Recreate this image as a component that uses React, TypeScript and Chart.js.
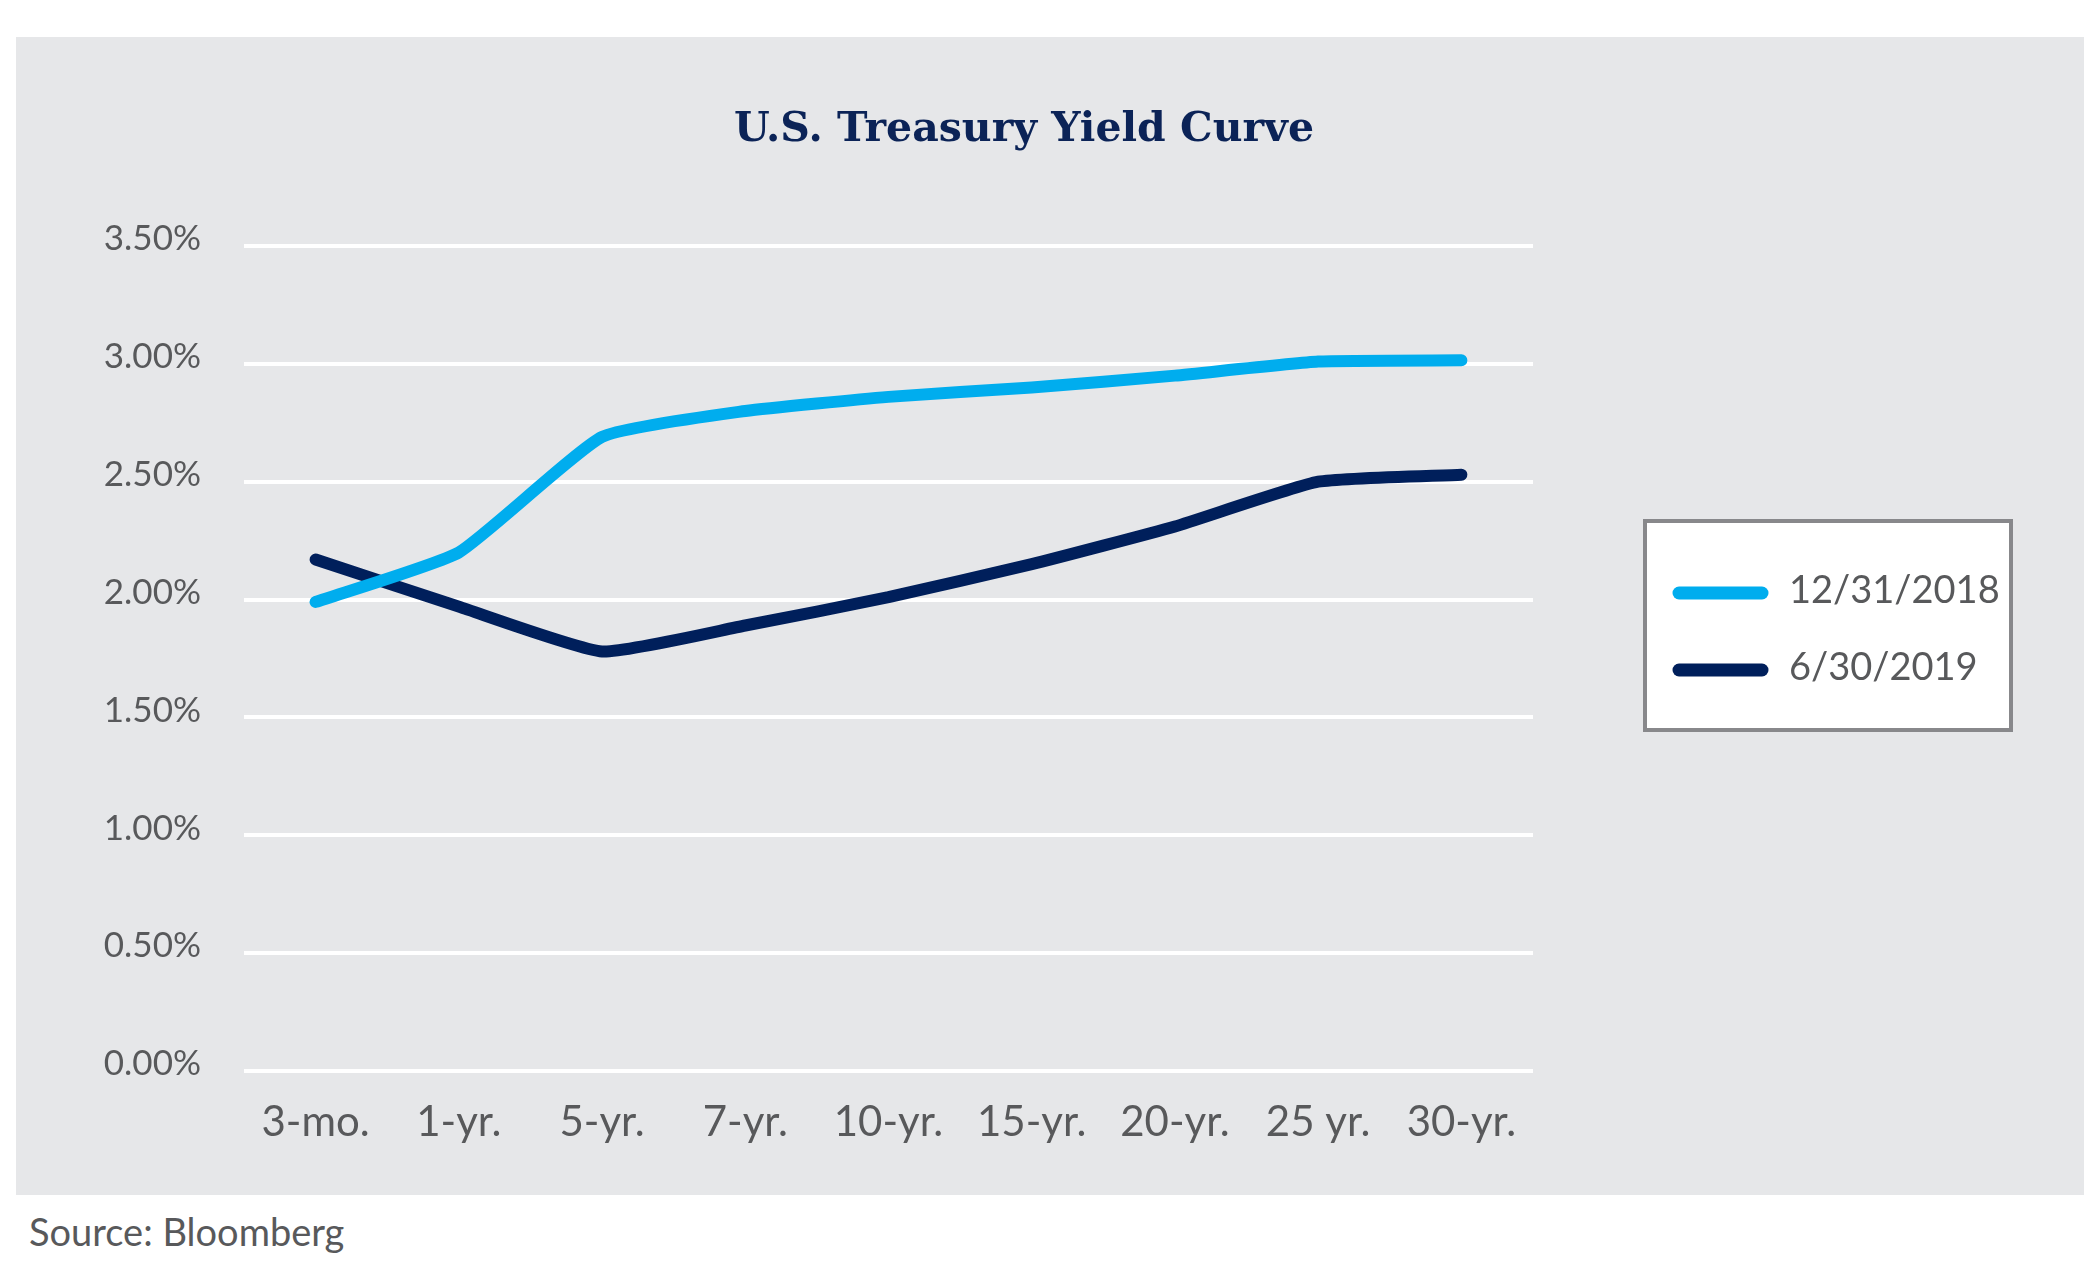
import React, { useEffect, useRef } from "react";
import { Chart, registerables } from "chart.js";

Chart.register(...registerables);

const titleText = "U.S. Treasury Yield Curve";
const sourceText = "Source: Bloomberg";
const categories = ["3-mo.", "1-yr.", "5-yr.", "7-yr.", "10-yr.", "15-yr.", "20-yr.", "25 yr.", "30-yr."];
const seriesLabels = ["12/31/2018", "6/30/2019"];
const dec2018 = [1.99, 2.2, 2.69, 2.8, 2.86, 2.9, 2.95, 3.01, 3.015];
const jun2019 = [2.17, 1.97, 1.78, 1.89, 2.01, 2.15, 2.31, 2.5, 2.53];
const seriesColors = ["#00ADEE", "#001F5B"];
const yTicks = [0, 0.5, 1, 1.5, 2, 2.5, 3, 3.5];

const TEXT_GRAY = "#58595B";
const PANEL_GRAY = "#E6E7E9";

const titlePlugin = {
  id: "customTitle",
  afterDraw(chart: any) {
    const ctx = chart.ctx;
    ctx.save();
    ctx.font = "bold 41px 'DejaVu Serif'";
    ctx.fillStyle = "#0B2357";
    ctx.textAlign = "center";
    ctx.textBaseline = "middle";
    ctx.fillText(titleText, 1008, 93);
    ctx.restore();
  },
};

const legendPlugin = {
  id: "boxLegend",
  afterDraw(chart: any) {
    const ctx = chart.ctx;
    const x0 = 1629;
    const y0 = 484;
    const w = 366;
    const h = 209;
    ctx.save();
    ctx.fillStyle = "#FFFFFF";
    ctx.fillRect(x0, y0, w, h);
    ctx.strokeStyle = "#88888B";
    ctx.lineWidth = 4;
    ctx.strokeRect(x0, y0, w, h);
    chart.data.datasets.forEach((ds: any, i: number) => {
      const cy = 556 + i * 77;
      ctx.strokeStyle = ds.borderColor;
      ctx.lineWidth = 13;
      ctx.lineCap = "round";
      ctx.beginPath();
      ctx.moveTo(1663, cy);
      ctx.lineTo(1746, cy);
      ctx.stroke();
      ctx.fillStyle = TEXT_GRAY;
      ctx.font = "38px Lato";
      ctx.textAlign = "left";
      ctx.textBaseline = "middle";
      ctx.fillText(ds.label, 1773, cy - 2);
    });
    ctx.restore();
  },
};

export default function App() {
  const canvasRef = useRef<HTMLCanvasElement | null>(null);

  useEffect(() => {
    if (!canvasRef.current) return;
    const chart = new Chart(canvasRef.current, {
      type: "line",
      data: {
        labels: categories,
        datasets: [
          {
            label: seriesLabels[0],
            data: dec2018,
            borderColor: seriesColors[0],
            backgroundColor: seriesColors[0],
            borderWidth: 12,
            borderCapStyle: "round",
            borderJoinStyle: "round",
            pointRadius: 0,
            tension: 0.15,
          },
          {
            label: seriesLabels[1],
            data: jun2019,
            borderColor: seriesColors[1],
            backgroundColor: seriesColors[1],
            borderWidth: 12,
            borderCapStyle: "round",
            borderJoinStyle: "round",
            pointRadius: 0,
            tension: 0.15,
          },
        ],
      },
      options: {
        animation: false,
        responsive: false,
        maintainAspectRatio: false,
        devicePixelRatio: 1,
        layout: { padding: { left: 0, right: 551, top: 209, bottom: 0 } },
        plugins: {
          legend: { display: false },
          title: { display: false },
          tooltip: { enabled: false },
        },
        scales: {
          x: {
            type: "category",
            offset: true,
            grid: { display: false, drawTicks: false },
            border: { display: false },
            ticks: {
              color: TEXT_GRAY,
              font: { family: "Lato", size: 42 },
              padding: 26,
              maxRotation: 0,
              autoSkip: false,
            },
            afterFit(scale: any) {
              scale.height = 124;
            },
          },
          y: {
            min: 0,
            max: 3.5,
            afterBuildTicks(scale: any) {
              scale.ticks = yTicks.map((v) => ({ value: v }));
            },
            grid: { color: "#FFFFFF", lineWidth: 4, drawTicks: false },
            border: { display: false },
            ticks: {
              color: TEXT_GRAY,
              font: { family: "Lato", size: 35 },
              padding: 43,
              labelOffset: -7,
              callback: (v: any) => Number(v).toFixed(2) + "%",
            },
            afterFit(scale: any) {
              scale.width = 228;
            },
          },
        },
      },
      plugins: [titlePlugin, legendPlugin],
    } as any);
    return () => chart.destroy();
  }, []);

  return (
    <div style={{ position: "absolute", left: 0, top: 0, width: 2100, height: 1275, background: "#FFFFFF" }}>
      <div style={{ position: "absolute", left: 16, top: 37, width: 2068, height: 1158, background: PANEL_GRAY }}>
        <canvas ref={canvasRef} width={2068} height={1158} style={{ display: "block", width: 2068, height: 1158 }} />
      </div>
      <div
        style={{
          position: "absolute",
          left: 29,
          top: 1208,
          fontFamily: "Lato",
          fontSize: 38,
          lineHeight: "46px",
          color: TEXT_GRAY,
        }}
      >
        {sourceText}
      </div>
    </div>
  );
}
